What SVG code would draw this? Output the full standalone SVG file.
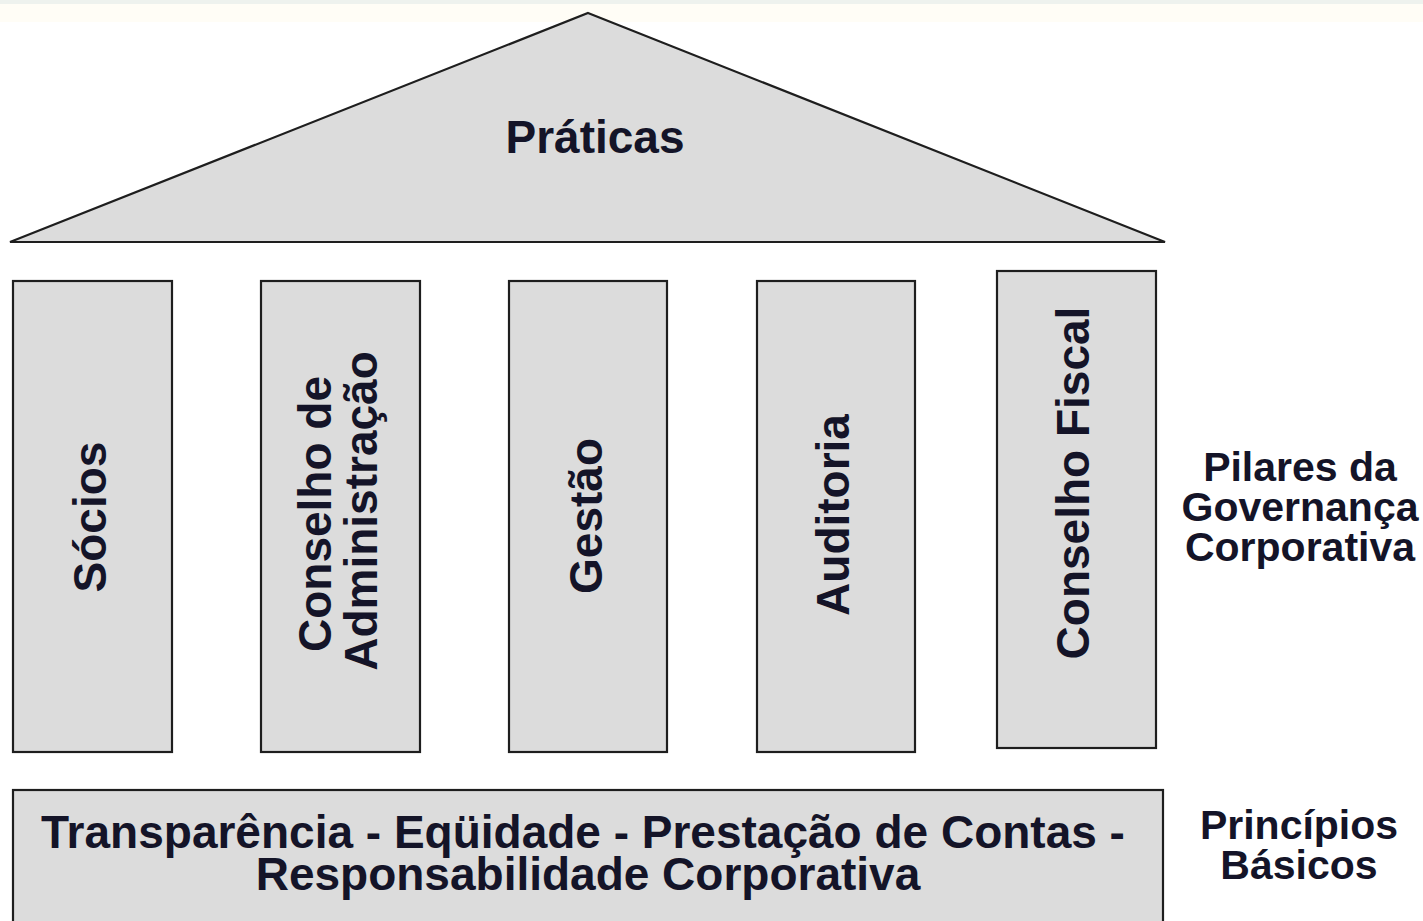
<svg xmlns="http://www.w3.org/2000/svg" width="1423" height="921" viewBox="0 0 1423 921">
  <style>
    .shape { fill: #dcdcdc; stroke: #1e1e1e; stroke-width: 2.2; }
    .t { font-family: "Liberation Sans", Arial, sans-serif; font-weight: bold; fill: #141428; text-anchor: middle; }
    .p { font-size: 46px; }
    .l { font-size: 41px; }
  </style>
  <rect x="0" y="0" width="1423" height="921" fill="#ffffff"/>
  <rect x="0" y="0" width="1423" height="4" fill="#eef2ee"/>
  <rect x="0" y="4" width="1423" height="18" fill="#fffdf6"/>

  <g id="roof">
    <polygon class="shape" points="588,13 1165,242 10,242"/>
    <text class="t p" x="595" y="153">Práticas</text>
  </g>

  <g id="pillar-socios">
    <rect class="shape" x="13" y="281" width="159" height="471"/>
    <text class="t p" transform="translate(106,517) rotate(-90)">Sócios</text>
  </g>

  <g id="pillar-conselho-administracao">
    <rect class="shape" x="261" y="281" width="159" height="471"/>
    <text class="t p" transform="translate(331,514) rotate(-90)">Conselho de</text>
    <text class="t p" transform="translate(377,511) rotate(-90)">Administração</text>
  </g>

  <g id="pillar-gestao">
    <rect class="shape" x="509" y="281" width="158" height="471"/>
    <text class="t p" transform="translate(602,516) rotate(-90)">Gestão</text>
  </g>

  <g id="pillar-auditoria">
    <rect class="shape" x="757" y="281" width="158" height="471"/>
    <text class="t p" transform="translate(849,515) rotate(-90)">Auditoria</text>
  </g>

  <g id="pillar-conselho-fiscal">
    <rect class="shape" x="997" y="271" width="159" height="477"/>
    <text class="t p" transform="translate(1089,483) rotate(-90)">Conselho Fiscal</text>
  </g>

  <g id="label-pilares">
    <text class="t l" x="1300" y="481">Pilares da</text>
    <text class="t l" x="1300" y="521">Governança</text>
    <text class="t l" x="1300" y="561">Corporativa</text>
  </g>

  <g id="base">
    <rect class="shape" x="13" y="790" width="1150" height="140"/>
    <text class="t p" x="583" y="848">Transparência - Eqüidade - Prestação de Contas -</text>
    <text class="t p" x="588" y="890">Responsabilidade Corporativa</text>
  </g>

  <g id="label-principios">
    <text class="t l" x="1299" y="839">Princípios</text>
    <text class="t l" x="1299" y="879">Básicos</text>
  </g>

  <g id="connectors"></g>
</svg>
